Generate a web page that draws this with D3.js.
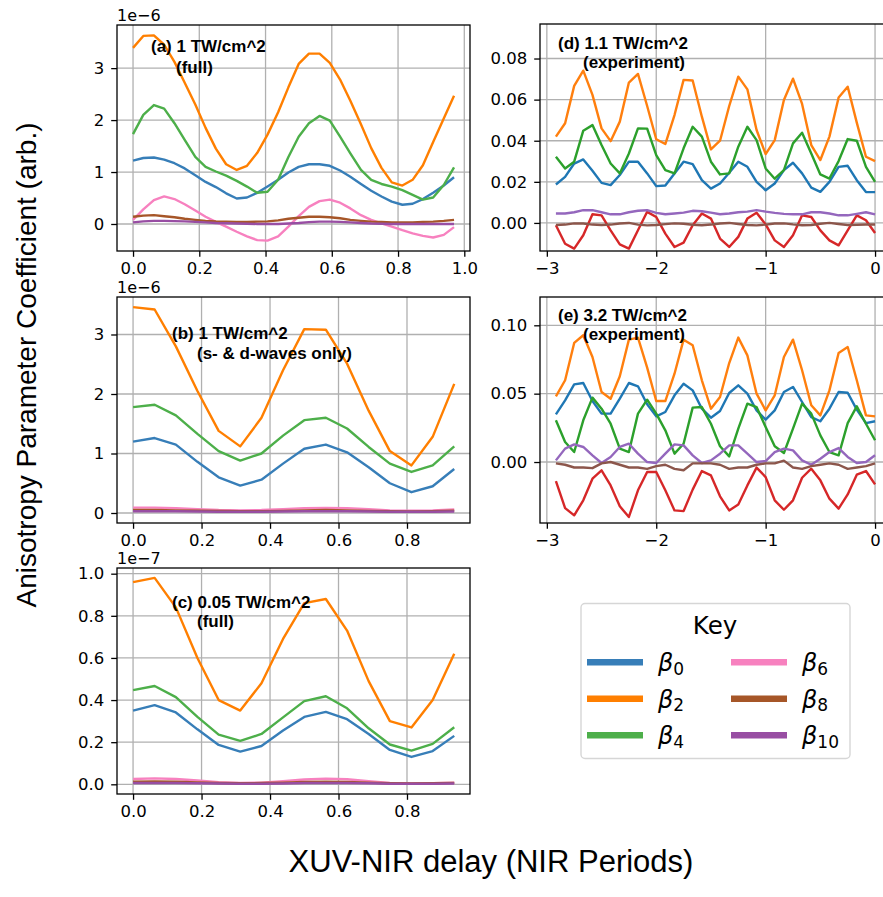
<!DOCTYPE html>
<html>
<head>
<meta charset="utf-8">
<title>Anisotropy parameter coefficients vs XUV-NIR delay</title>
<script src="https://cdn.jsdelivr.net/npm/d3@7"></script>
<style>
  body { margin: 0; background: #fff; }
  svg { display: block; }
  .tick text { font-family: "DejaVu Sans", sans-serif; font-size: 16.5px; fill: #000; }
  .tick line { stroke: #000; stroke-width: 1.3; }
  .offset { font-family: "DejaVu Sans", sans-serif; font-size: 16px; }
  .note { font-family: "Liberation Sans", Arial, sans-serif; font-size: 17px; font-weight: bold; }
  .axis-label { font-family: "Liberation Sans", Arial, sans-serif; }
</style>
</head>
<body>
<script>
// delays (NIR periods)
var delayA = [0,0.031,0.063,0.094,0.125,0.156,0.188,0.219,0.25,0.281,0.313,0.344,0.375,0.406,0.438,0.469,
              0.5,0.531,0.563,0.594,0.625,0.656,0.688,0.719,0.75,0.781,0.813,0.844,0.875,0.906,0.938,0.969];
var delayBC = [0,0.063,0.125,0.188,0.25,0.313,0.375,0.438,0.5,0.563,0.625,0.688,0.75,0.813,0.875,0.938];
var delayDE = [-2.917,-2.833,-2.75,-2.667,-2.583,-2.5,-2.417,-2.333,-2.25,-2.167,-2.083,-2,
               -1.917,-1.833,-1.75,-1.667,-1.583,-1.5,-1.417,-1.333,-1.25,-1.167,-1.083,-1,
               -0.917,-0.833,-0.75,-0.667,-0.583,-0.5,-0.417,-0.333,-0.25,-0.167,-0.083,0];

// (a) 1 TW/cm^2 full, units 1e-6
var b0A = [1.22,1.27,1.28,1.24,1.17,1.07,0.94,0.81,0.71,0.59,0.49,0.51,0.60,0.72,0.85,0.99,1.10,1.15,1.15,1.12,1.03,0.91,0.77,0.64,0.53,0.43,0.37,0.39,0.48,0.60,0.74,0.90];
var b2A = [3.39,3.62,3.63,3.45,3.12,2.72,2.30,1.85,1.45,1.15,1.04,1.12,1.37,1.72,2.15,2.63,3.08,3.28,3.28,3.10,2.78,2.37,1.92,1.46,1.08,0.80,0.74,0.85,1.13,1.58,2.03,2.47];
var b4A = [1.73,2.10,2.29,2.22,1.94,1.62,1.29,1.10,1.01,0.93,0.83,0.72,0.60,0.62,0.85,1.29,1.68,1.94,2.08,1.99,1.68,1.36,1.04,0.85,0.77,0.72,0.65,0.56,0.47,0.51,0.75,1.09];
var b6A = [0.08,0.28,0.46,0.53,0.48,0.38,0.26,0.14,0.04,-0.05,-0.15,-0.24,-0.31,-0.32,-0.24,-0.05,0.15,0.33,0.44,0.47,0.41,0.30,0.17,0.08,0.01,-0.05,-0.12,-0.18,-0.23,-0.26,-0.21,-0.06];
var b8A = [0.14,0.16,0.17,0.15,0.13,0.10,0.08,0.06,0.05,0.045,0.04,0.04,0.045,0.05,0.07,0.10,0.12,0.14,0.14,0.13,0.11,0.08,0.06,0.045,0.04,0.03,0.03,0.03,0.04,0.045,0.06,0.08];
var b10A = [0.03,0.05,0.06,0.06,0.055,0.05,0.04,0.03,0.02,0.015,0.01,0.005,0,0,0,0.01,0.02,0.035,0.045,0.045,0.04,0.03,0.02,0.01,0.005,0,0,0,0,0,0,0];

// (b) 1 TW/cm^2 s- & d-waves only, units 1e-6
var b0B = [1.20,1.26,1.15,0.86,0.60,0.46,0.56,0.83,1.08,1.15,1.02,0.77,0.50,0.35,0.45,0.74];
var b2B = [3.46,3.42,2.80,2.05,1.38,1.12,1.60,2.40,3.09,3.08,2.51,1.72,1.04,0.80,1.28,2.17];
var b4B = [1.78,1.82,1.64,1.33,1.04,0.88,1.00,1.30,1.56,1.60,1.42,1.11,0.83,0.69,0.80,1.12];
var b6B = [0.09,0.09,0.08,0.065,0.05,0.045,0.05,0.065,0.08,0.085,0.08,0.065,0.045,0.04,0.045,0.06];
var b8B = [0.05,0.05,0.045,0.04,0.035,0.03,0.03,0.035,0.045,0.05,0.045,0.035,0.03,0.025,0.03,0.04];
var b10B = [0.03,0.03,0.03,0.025,0.02,0.02,0.02,0.025,0.03,0.03,0.03,0.025,0.02,0.02,0.02,0.025];

// (c) 0.05 TW/cm^2 full, units 1e-7
var b0C = [0.350,0.376,0.341,0.261,0.187,0.155,0.182,0.255,0.320,0.344,0.309,0.239,0.163,0.130,0.158,0.230];
var b2C = [0.96,0.98,0.84,0.60,0.40,0.35,0.48,0.69,0.86,0.88,0.73,0.49,0.30,0.27,0.40,0.62];
var b4C = [0.447,0.467,0.414,0.320,0.236,0.206,0.239,0.318,0.395,0.418,0.361,0.266,0.189,0.160,0.192,0.271];
var b6C = [0.025,0.028,0.025,0.018,0.010,0.007,0.008,0.015,0.023,0.027,0.024,0.015,0.006,0.004,0.005,0.008];
var b8C = [0.012,0.013,0.012,0.009,0.006,0.005,0.006,0.008,0.011,0.012,0.011,0.008,0.005,0.004,0.005,0.007];
var b10C = [0.006,0.006,0.006,0.005,0.004,0.003,0.003,0.004,0.006,0.006,0.006,0.005,0.003,0.003,0.003,0.004];

// (d) 1.1 TW/cm^2 experiment
var b0D = [0.0187,0.0224,0.0289,0.0309,0.0254,0.0195,0.0184,0.0233,0.0298,0.0298,0.0241,0.0179,0.0182,0.0241,0.0298,0.0286,0.0208,0.0167,
           0.0192,0.0244,0.0298,0.0273,0.0200,0.0159,0.0192,0.0257,0.0293,0.0241,0.0172,0.0151,0.0200,0.0273,0.0278,0.0208,0.0150,0.0150];
var b2D = [0.0420,0.0485,0.0667,0.0741,0.0623,0.0460,0.0398,0.0493,0.0683,0.0725,0.0569,0.0407,0.0384,0.0525,0.0696,0.0693,0.0517,0.0358,
           0.0400,0.0569,0.0712,0.0650,0.0452,0.0335,0.0403,0.0598,0.0702,0.0579,0.0379,0.0306,0.0420,0.0610,0.0663,0.0488,0.0322,0.0301];
var b4D = [0.0322,0.0265,0.0298,0.0449,0.0476,0.0379,0.0289,0.0241,0.0338,0.0460,0.0459,0.0330,0.0257,0.0241,0.0363,0.0468,0.0420,0.0298,
           0.0236,0.0241,0.0371,0.0468,0.0403,0.0265,0.0215,0.0257,0.0387,0.0439,0.0338,0.0236,0.0216,0.0301,0.0408,0.0400,0.0273,0.0200];
var b6D = [-0.0011,-0.0101,-0.0125,-0.0060,0.0042,0.0037,-0.0036,-0.0104,-0.0125,-0.0036,0.0054,0.0029,-0.0052,-0.0117,-0.0096,-0.0011,0.0046,0.0021,
           -0.0076,-0.0117,-0.0068,0.0021,0.0050,-0.0007,-0.0085,-0.0117,-0.0060,0.0037,0.0029,-0.0036,-0.0085,-0.0109,-0.0036,0.0037,0.0013,-0.0049];
var b8D = [0.0046,0.0046,0.0052,0.0062,0.0062,0.0052,0.0042,0.0042,0.0052,0.0059,0.0062,0.0049,0.0042,0.0046,0.0050,0.0059,0.0057,0.0050,
           0.0042,0.0046,0.0052,0.0055,0.0062,0.0055,0.0049,0.0044,0.0042,0.0042,0.0052,0.0052,0.0046,0.0037,0.0037,0.0044,0.0052,0.0042];
var b10D = [-0.0010,-0.0008,-0.0002,-0.0003,-0.0008,-0.0010,-0.0008,-0.0003,0.0000,-0.0008,-0.0012,-0.0010,-0.0006,-0.0002,-0.0004,-0.0009,-0.0011,-0.0008,
            -0.0003,0.0000,-0.0005,-0.0010,-0.0012,-0.0008,-0.0003,-0.0002,-0.0007,-0.0011,-0.0010,-0.0004,0.0000,-0.0005,-0.0010,-0.0009,-0.0008,-0.0008];

// (e) 3.2 TW/cm^2 experiment
var b0E = [0.0349,0.0451,0.0568,0.0578,0.0446,0.0354,0.0354,0.0463,0.0578,0.0554,0.0422,0.0334,0.0366,0.0488,0.0573,0.0524,0.0390,0.0324,
           0.0373,0.0505,0.0561,0.0500,0.0378,0.0310,0.0378,0.0512,0.0549,0.0439,0.0329,0.0298,0.0390,0.0512,0.0507,0.0383,0.0285,0.0298];
var b2E = [0.0480,0.0598,0.0871,0.0927,0.0768,0.0512,0.0463,0.0627,0.0895,0.0910,0.0690,0.0446,0.0446,0.0646,0.0895,0.0854,0.0598,0.0390,
           0.0476,0.0724,0.0910,0.0780,0.0500,0.0378,0.0488,0.0768,0.0895,0.0671,0.0415,0.0341,0.0524,0.0798,0.0841,0.0598,0.0341,0.0334];
var b4E = [0.0305,0.0146,0.0073,0.0305,0.0471,0.0390,0.0280,0.0098,0.0073,0.0354,0.0456,0.0354,0.0232,0.0061,0.0134,0.0398,0.0402,0.0280,
           0.0115,0.0041,0.0244,0.0427,0.0402,0.0256,0.0115,0.0066,0.0244,0.0427,0.0354,0.0195,0.0073,0.0049,0.0285,0.0407,0.0280,0.0159];
var b6E = [-0.0139,-0.0337,-0.0390,-0.0280,-0.0122,-0.0061,-0.0171,-0.0324,-0.0402,-0.0207,-0.0073,-0.0073,-0.0207,-0.0354,-0.0359,-0.0202,-0.0066,-0.0098,
           -0.0251,-0.0354,-0.0310,-0.0171,-0.0041,-0.0110,-0.0280,-0.0349,-0.0280,-0.0115,-0.0049,-0.0134,-0.0268,-0.0341,-0.0237,-0.0093,-0.0066,-0.0163];
var b8E = [0.0012,0.0098,0.0129,0.0110,0.0049,-0.0007,0.0037,0.0110,0.0134,0.0061,0.0000,-0.0007,0.0061,0.0129,0.0122,0.0049,-0.0007,0.0012,
           0.0061,0.0122,0.0122,0.0061,0.0000,0.0007,0.0073,0.0098,0.0085,0.0012,-0.0020,0.0024,0.0073,0.0102,0.0037,-0.0007,0.0000,0.0049];
var b10E = [-0.001,-0.002,-0.004,-0.004,-0.0045,-0.001,0.000,-0.002,-0.004,-0.004,-0.005,-0.003,-0.002,-0.005,-0.006,-0.001,-0.001,-0.001,
            -0.002,-0.005,-0.004,-0.004,-0.002,-0.001,-0.001,0.001,-0.004,-0.005,-0.003,-0.002,-0.001,-0.002,-0.005,-0.004,-0.003,-0.001];

var betaSubs = ["0", "2", "4", "6", "8", "10"];
var simColours = ["#377eb8", "#ff7f00", "#4daf4a", "#f781bf", "#a65628", "#984ea3"];
var expColours = ["#1f77b4", "#ff7f0e", "#2ca02c", "#d62728", "#9467bd", "#8c564b"];

var simXTicks = [0, 0.2, 0.4, 0.6, 0.8, 1.0];
var expXTicks = [-3, -2, -1, 0];

var W = 883, H = 897;
var svg = d3.select("body").append("svg").attr("width", W).attr("height", H);
svg.append("rect").attr("width", W).attr("height", H).attr("fill", "#fff");

var panels = [
  { id: "a", left: 117, right: 470, top: 25, bottom: 251,
    xDomain: [-0.0484, 1.0172], yDomain: [-0.52, 3.83],
    delay: delayA, series: [b0A, b2A, b4A, b6A, b8A, b10A], colours: simColours,
    xTicks: simXTicks, yTicks: [0, 1, 2, 3], xFormat: d3.format(".1f"), yFormat: d3.format("d"),
    offset: "1e\u22126",
    notes: [["(a) 1 TW/cm^2", 151, 52], ["(full)", 176, 73]] },
  { id: "b", left: 117, right: 470, top: 297, bottom: 523,
    xDomain: [-0.0469, 0.984], yDomain: [-0.168, 3.63],
    delay: delayBC, series: [b0B, b2B, b4B, b6B, b8B, b10B], colours: simColours,
    xTicks: simXTicks, yTicks: [0, 1, 2, 3], xFormat: d3.format(".1f"), yFormat: d3.format("d"),
    offset: "1e\u22126",
    notes: [["(b) 1 TW/cm^2", 172, 339], ["(s- & d-waves only)", 197, 359]] },
  { id: "c", left: 117, right: 470, top: 568, bottom: 794,
    xDomain: [-0.0469, 0.984], yDomain: [-0.046, 1.027],
    delay: delayBC, series: [b0C, b2C, b4C, b6C, b8C, b10C], colours: simColours,
    xTicks: simXTicks, yTicks: [0, 0.2, 0.4, 0.6, 0.8, 1.0], xFormat: d3.format(".1f"), yFormat: d3.format(".1f"),
    offset: "1e\u22127",
    notes: [["(c) 0.05 TW/cm^2", 172, 608], ["(full)", 197, 627]] },
  { id: "d", left: 540, right: 891, top: 24, bottom: 251,
    xDomain: [-3.0625, 0.1458], yDomain: [-0.01366, 0.0968],
    delay: delayDE, series: [b0D, b2D, b4D, b6D, b8D, b10D], colours: expColours,
    xTicks: expXTicks, yTicks: [0, 0.02, 0.04, 0.06, 0.08], xFormat: d3.format("d"), yFormat: d3.format(".2f"),
    offset: null,
    notes: [["(d) 1.1 TW/cm^2", 558, 49], ["(experiment)", 583, 68]] },
  { id: "e", left: 540, right: 891, top: 297, bottom: 523,
    xDomain: [-3.0625, 0.1458], yDomain: [-0.0446, 0.1207],
    delay: delayDE, series: [b0E, b2E, b4E, b6E, b8E, b10E], colours: expColours,
    xTicks: expXTicks, yTicks: [0, 0.05, 0.10], xFormat: d3.format("d"), yFormat: d3.format(".2f"),
    offset: null,
    notes: [["(e) 3.2 TW/cm^2", 558, 321], ["(experiment)", 583, 340]] }
];

function drawPanel(p) {
  var x = d3.scaleLinear().domain(p.xDomain).range([p.left, p.right]);
  var y = d3.scaleLinear().domain(p.yDomain).range([p.bottom, p.top]);
  var g = svg.append("g").attr("class", "panel-" + p.id);
  var xTicks = p.xTicks.filter(t => t >= p.xDomain[0] && t <= p.xDomain[1]);

  // grid
  g.append("g").selectAll("line").data(xTicks)
    .join("line")
      .attr("x1", d => x(d)).attr("x2", d => x(d))
      .attr("y1", p.top).attr("y2", p.bottom)
      .attr("stroke", "#b0b0b0").attr("stroke-width", 1.3);
  g.append("g").selectAll("line").data(p.yTicks)
    .join("line")
      .attr("x1", p.left).attr("x2", p.right)
      .attr("y1", d => y(d)).attr("y2", d => y(d))
      .attr("stroke", "#b0b0b0").attr("stroke-width", 1.3);

  var clipId = "clip-" + p.id;
  svg.append("clipPath").attr("id", clipId).append("rect")
    .attr("x", p.left).attr("y", p.top)
    .attr("width", p.right - p.left).attr("height", p.bottom - p.top);

  var line = d3.line()
    .x((d, i) => x(p.delay[i]))
    .y(d => y(d));

  g.append("g").attr("clip-path", "url(#" + clipId + ")")
    .selectAll("path").data(p.series)
    .join("path")
      .attr("d", line)
      .attr("fill", "none")
      .attr("stroke", (d, i) => p.colours[i])
      .attr("stroke-width", 2.4)
      .attr("stroke-linejoin", "round");

  g.append("g")
    .attr("transform", "translate(0," + p.bottom + ")")
    .call(d3.axisBottom(x).tickValues(xTicks).tickFormat(p.xFormat).tickSize(5.8).tickPadding(5.5))
    .call(a => a.select(".domain").remove());

  g.append("g")
    .attr("transform", "translate(" + p.left + ",0)")
    .call(d3.axisLeft(y).tickValues(p.yTicks).tickFormat(p.yFormat).tickSize(5.8).tickPadding(7))
    .call(a => a.select(".domain").remove());

  g.append("rect")
    .attr("x", p.left).attr("y", p.top)
    .attr("width", p.right - p.left).attr("height", p.bottom - p.top)
    .attr("fill", "none").attr("stroke", "#000").attr("stroke-width", 1.3);

  if (p.offset) {
    g.append("text").attr("class", "offset")
      .attr("x", p.left).attr("y", p.top - 4)
      .text(p.offset);
  }

  g.selectAll(".note").data(p.notes)
    .join("text")
      .attr("class", "note")
      .attr("x", d => d[1]).attr("y", d => d[2])
      .text(d => d[0]);
}

panels.forEach(drawPanel);

// legend
var legend = svg.append("g").attr("class", "legend");
legend.append("rect")
  .attr("x", 581).attr("y", 603.5).attr("width", 269).attr("height", 155)
  .attr("rx", 4).attr("fill", "#fff").attr("stroke", "#d6d6d6").attr("stroke-width", 1.4);
legend.append("text")
  .attr("x", 715).attr("y", 634)
  .attr("text-anchor", "middle")
  .attr("font-family", "DejaVu Sans, sans-serif").attr("font-size", 24.5)
  .text("Key");

var entry = legend.selectAll(".entry").data(betaSubs)
  .join("g")
    .attr("class", "entry")
    .attr("transform", (d, i) => "translate(" + (i < 3 ? 587 : 731) + "," + (662.3 + (i % 3) * 36.5) + ")");
entry.append("line")
  .attr("x1", 0).attr("x2", 56).attr("y1", 0).attr("y2", 0)
  .attr("stroke", (d, i) => simColours[i]).attr("stroke-width", 6.5);
var lab = entry.append("text")
  .attr("x", 71).attr("y", 9)
  .attr("font-family", "DejaVu Sans, sans-serif").attr("font-size", 24);
lab.append("tspan").attr("font-style", "italic").text("\u03b2");
lab.append("tspan").attr("font-size", 17).attr("dy", 3.5).text(d => d);

// axis labels
svg.append("text").attr("class", "axis-label")
  .attr("transform", "translate(36,365) rotate(-90)")
  .attr("text-anchor", "middle").attr("font-size", 28)
  .text("Anisotropy Parameter Coefficient (arb.)");
svg.append("text").attr("class", "axis-label")
  .attr("x", 491).attr("y", 872)
  .attr("text-anchor", "middle").attr("font-size", 31)
  .text("XUV-NIR delay (NIR Periods)");
</script>
</body>
</html>
